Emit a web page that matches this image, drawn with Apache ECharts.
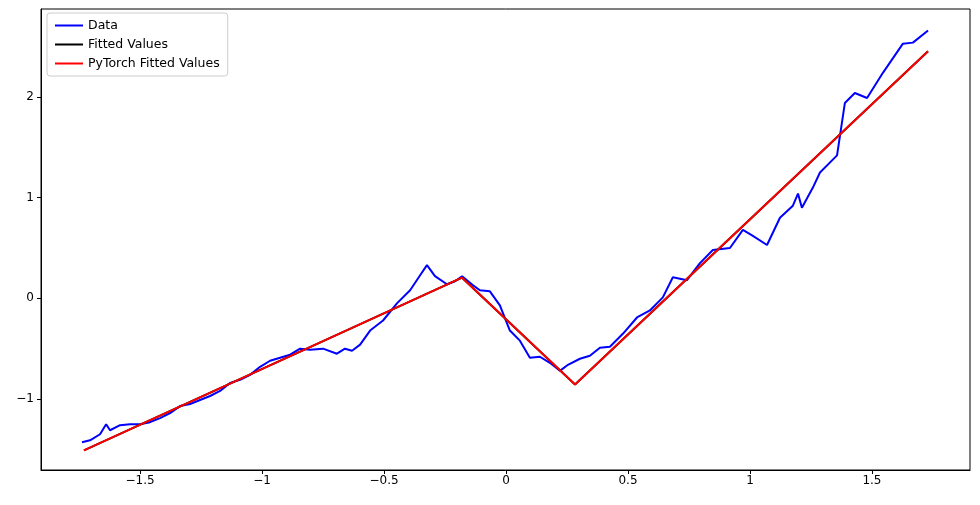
<!DOCTYPE html>
<html><head><meta charset="utf-8">
<script src="https://cdn.jsdelivr.net/npm/echarts@6/dist/echarts.min.js"></script>
<style>body{margin:0}#c{width:980px;height:505px}</style></head>
<body><div id="c"></div>
<script>
const xData=[-1.738,-1.705,-1.664,-1.639,-1.623,-1.582,-1.541,-1.5,-1.459,-1.418,-1.377,-1.336,-1.295,-1.254,-1.213,-1.172,-1.131,-1.090,-1.049,-1.008,-0.967,-0.926,-0.885,-0.844,-0.803,-0.75,-0.693,-0.66,-0.631,-0.598,-0.557,-0.504,-0.447,-0.393,-0.352,-0.324,-0.291,-0.242,-0.209,-0.18,-0.135,-0.107,-0.066,-0.025,0.016,0.057,0.098,0.139,0.18,0.221,0.254,0.303,0.344,0.385,0.426,0.48,0.537,0.59,0.643,0.684,0.742,0.795,0.848,0.918,0.971,1.012,1.07,1.123,1.176,1.197,1.213,1.258,1.287,1.357,1.389,1.43,1.48,1.545,1.627,1.668,1.73];
const yData=[-1.43,-1.41,-1.35,-1.25,-1.31,-1.26,-1.25,-1.25,-1.23,-1.19,-1.14,-1.07,-1.05,-1.01,-0.97,-0.92,-0.84,-0.81,-0.76,-0.68,-0.62,-0.59,-0.56,-0.50,-0.51,-0.50,-0.55,-0.50,-0.52,-0.46,-0.32,-0.22,-0.05,0.08,0.23,0.33,0.22,0.14,0.17,0.22,0.13,0.08,0.07,-0.07,-0.32,-0.42,-0.59,-0.58,-0.64,-0.72,-0.66,-0.60,-0.57,-0.49,-0.48,-0.35,-0.19,-0.12,0.01,0.21,0.18,0.35,0.48,0.50,0.68,0.62,0.53,0.80,0.92,1.04,0.90,1.10,1.25,1.42,1.94,2.04,1.99,2.24,2.53,2.54,2.66];
const fitX=[-1.73,-0.18,0.283,1.73];
const fitY=[-1.51,0.205,-0.855,2.455];
const xTicks=[-1.5,-1,-0.5,0,0.5,1,1.5];
const yTicks=[-1,0,1,2];
const zip=(a,b)=>a.map((v,i)=>[v,b[i]]);
const fmt=v=>{const s=Number.isInteger(v)?String(Math.abs(v)):Math.abs(v).toFixed(1);return (v<0?'\u2212':'')+s;};
const font='DejaVu Sans';
const chart=echarts.init(document.getElementById('c'));
chart.setOption({
 animation:false,
 textStyle:{fontFamily:font},
 grid:{left:41,right:10,top:9,bottom:35,show:true,borderColor:'#000',borderWidth:1},
 legend:{orient:'vertical',left:47,top:13,padding:[6,8,6,8],itemGap:6,itemWidth:28,itemHeight:2,
   borderColor:'#ccc',borderWidth:1,borderRadius:3,icon:'rect',
   textStyle:{fontSize:12.5,color:'#000',fontFamily:font},
   data:['Data','Fitted Values','PyTorch Fitted Values']},
 xAxis:{type:'value',min:-1.906,max:1.902,
   axisLine:{show:true,onZero:false,lineStyle:{color:'#000'}},splitLine:{show:false},
   axisTick:{show:true,length:4,customValues:xTicks,lineStyle:{color:'#000'}},
   axisLabel:{customValues:xTicks,formatter:fmt,color:'#000',fontSize:12,margin:5}},
 yAxis:{type:'value',min:-1.705,max:2.874,
   axisLine:{show:true,onZero:false,lineStyle:{color:'#000'}},splitLine:{show:false},
   axisTick:{show:true,length:4,customValues:yTicks,lineStyle:{color:'#000'}},
   axisLabel:{customValues:yTicks,formatter:fmt,color:'#000',fontSize:12,margin:7}},
 series:[
  {name:'Data',type:'line',data:zip(xData,yData),showSymbol:false,color:'#0000ff',lineStyle:{width:2,color:'#0000ff'}},
  {name:'Fitted Values',type:'line',data:zip(fitX,fitY),showSymbol:false,color:'#000',lineStyle:{width:2,color:'#000'}},
  {name:'PyTorch Fitted Values',type:'line',data:zip(fitX,fitY),showSymbol:false,color:'#ff0000',lineStyle:{width:2,color:'#ff0000'}}
 ]
});
</script></body></html>
